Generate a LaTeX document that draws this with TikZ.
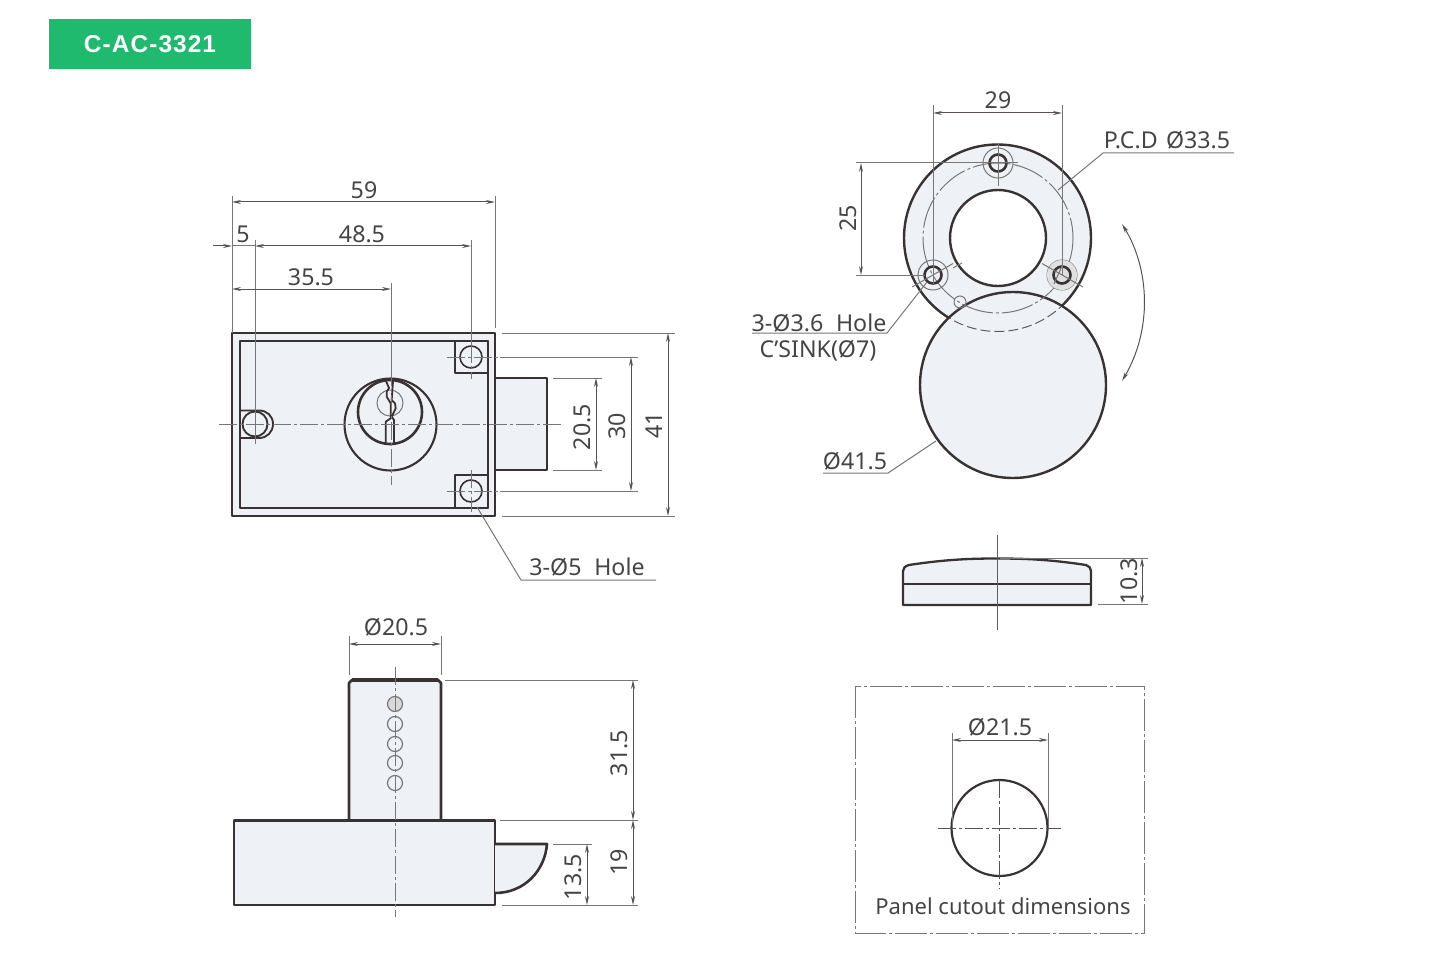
\documentclass[tikz,border=0pt]{standalone}
\usepackage{fontspec}
\setmainfont{Noto Sans}
\newfontfamily\badgefont[LetterSpace=4.5]{Liberation Sans}
\usetikzlibrary{arrows.meta}
\definecolor{ink}{HTML}{3A3232}
\definecolor{thinc}{HTML}{777777}
\definecolor{txtc}{HTML}{444444}
\definecolor{part}{HTML}{EEF2F7}
\definecolor{badge}{HTML}{1FBA6E}
\tikzset{
 outl/.style={draw=ink,line width=1.3pt,line join=round},
 partf/.style={outl,fill=part},
 thinl/.style={draw=thinc,line width=0.5pt},
 extl/.style={thinl},
 diml/.style={draw=ink!85,line width=0.5pt,{Stealth[length=4.5pt,width=2pt]}-{Stealth[length=4.5pt,width=2pt]}},
 oneway/.style={draw=ink!85,line width=0.5pt,-{Stealth[length=4.5pt,width=2pt]}},
 cline/.style={draw=thinc,line width=0.5pt,dash pattern=on 9pt off 1.5pt on 1.5pt off 1.5pt},
 lbl/.style={text=txtc,font=\fontsize{11.6}{12}\selectfont,inner sep=0pt},
 lblr/.style={lbl,rotate=90},
}
\newcommand{\wsp}{\hspace{0.55em}}
\begin{document}
\begin{tikzpicture}[x=0.5pt,y=-0.5pt]
\useasboundingbox (0,0) rectangle (1450,973);
% badge
\node[fill=badge,minimum width=101pt,minimum height=25pt,inner sep=0pt,text=white,font=\badgefont\bfseries\fontsize{12.2}{13}\selectfont] (badgebox) at (150,44) {C-AC-3321};

% ---- front view
\path[partf] (232,333) rectangle (495,516);
\path[partf] (495,378) rectangle (547,470);
\path[outl] (240,341) rectangle (488,508);
\path[outl,line width=1.1pt] (455,341) rectangle (488,373);
\path[outl,line width=1.1pt] (455,475) rectangle (488,508);
\path[thinl,draw=ink,line width=.8pt] (471,357) circle[radius=11];
\path[thinl,draw=ink,line width=.8pt] (471,491) circle[radius=11];
% slot
\path[outl,line width=.95pt] (240,410.5) -- (259,410.5) .. controls (267,410.5) and (273,416) .. (273,424) .. controls (273,432) and (267,438) .. (259,438) -- (240,438);
\path[outl,line width=.95pt] (255,424) circle[radius=12.5];
% cylinder
\path[outl,line width=1.05pt] (390.5,424.5) circle[radius=46];
\path[outl] (390,412) circle[radius=32];
\path[thinl] (390,403) circle[radius=13];
\path[outl,line width=.9pt] (385.7,444) -- (385.7,421.7) -- (390.7,418.3) -- (390.7,403.3) -- (386.7,396.7) -- (386.7,391.7) -- (389,388) -- (386,381);
\path[outl,line width=.9pt] (394,444) -- (394,420) -- (391.7,416.7) -- (395.7,408.3) -- (395,403.3) -- (391.7,400) -- (393,381);
% centre lines
\path[cline] (219,424) -- (561,424);
\path[cline] (391,368) -- (391,485);
\path[extl] (391,283) -- (391,372);
\path[extl] (255,240) -- (255,444);
\path[cline] (447,357) -- (500,357);
\path[cline] (447,491) -- (500,491);
\path[extl] (471,240) -- (471,345);
\path[cline] (471,345) -- (471,379);
\path[cline] (471,470) -- (471,512);
% dims top
\path[extl] (232,196) -- (232,333);
\path[extl] (495,196) -- (495,328);
\path[diml] (232,202) -- (495,202);
\node[lbl] (t59) at (364,190) {59};
\coordinate (d5l) at (213,246);
\path[oneway] (d5l) -- (232,246);
\path[extl] (232,246) -- (255,246);
\path[diml] (255,246) -- (471,246);
\node[lbl] (t5) at (243,234) {5};
\node[lbl] (t485) at (362,234) {48.5};
\path[diml] (232,289) -- (391,289);
\node[lbl] (t355) at (311,277) {35.5};
% dims right
\path[extl] (502,333) -- (675,333);
\path[extl] (502,516) -- (675,516);
\path[extl] (500,357) -- (638,357);
\path[extl] (500,491) -- (638,491);
\path[extl] (553,378) -- (602,378);
\path[extl] (553,470) -- (602,470);
\path[diml] (596,378) -- (596,470);
\path[diml] (631,357) -- (631,491);
\path[diml] (668,333) -- (668,516);
\node[lblr] (t205) at (582,427) {20.5};
\node[lblr] (t30) at (617,426) {30};
\node[lblr] (t41) at (654,425) {41};
% leader
\path[extl] (477,507) -- (521,580) -- (656,580);
\node[lbl] (t5h) at (587,567) {3-Ø5\wsp Hole};

% ---- lower-left view
\path[partf] (349,820) -- (349,683) -- (352,680) -- (438,680) -- (441,683) -- (441,820);
\path[outl,line width=1.7pt] (352,680) -- (438,680);
\path[partf] (234,820.5) rectangle (495,905);
\path[partf] (495,844) -- (547,844) .. controls (545,870) and (525,893) .. (495,893);
\foreach \yy in {724,744,763,783} \path[thinl,line width=.6pt] (395,\yy) circle[radius=7.5];
\path[thinl,line width=.6pt,fill=black!15] (395,704) circle[radius=7.5];
\path[cline] (395,667) -- (395,917);
\path[extl] (349,636) -- (349,675);
\path[extl] (441,636) -- (441,675);
\path[diml] (349,644) -- (441,644);
\node[lbl] (t205d) at (396,627) {Ø20.5};
\path[extl] (445,680) -- (638,680);
\path[extl] (500,820) -- (638,820);
\path[extl] (553,844) -- (592,844);
\path[extl] (502,905) -- (638,905);
\path[diml] (633,680) -- (633,820);
\path[diml] (633,820) -- (633,905);
\path[diml] (587,844) -- (587,905);
\node[lblr] (t315) at (619,753) {31.5};
\node[lblr] (t19) at (619,862) {19};
\node[lblr] (t135) at (573,877) {13.5};

% ---- flange
\path[partf,line width=1.2pt] (997.5,238) circle[radius=93.5];
\path[outl,line width=1.2pt,fill=white] (998,238) circle[radius=48];
\path[partf,line width=1.2pt] (1013,385) circle[radius=93];
\begin{scope}
\clip (1013,385) circle[radius=92];
\path[thinl,draw=ink!80,dash pattern=on 5pt off 2pt] (997.5,238) circle[radius=93.5];
\end{scope}
\path[thinl,dash pattern=on 16pt off 1.5pt on 1.5pt off 1.5pt] (998,238) circle[radius=75];
\path[thinl] (960,302) circle[radius=6];
\foreach \cx/\cy in {998/163,933/275,1062/275}{
 \path[thinl] (\cx,\cy) circle[radius=15];
}
\path[fill=black!12] (1062,275) circle[radius=15];
\foreach \cx/\cy in {998/163,933/275,1062/275}{
 \path[outl] (\cx,\cy) circle[radius=8.5];
}
\path[thinl] (998,144) -- (998,186);
\path[thinl] (978,163) -- (1018,163);
\path[thinl] (912,287) -- (953,263.5);
\path[thinl] (962,263) -- (953,268);
\path[thinl] (1083,287) -- (1042,263.5);
\path[thinl] (933,266) -- (933,284);
\path[thinl] (1062,266) -- (1054,284);
% dims
\path[extl] (933,105) -- (933,275);
\path[extl] (1062,105) -- (1062,275);
\path[diml] (933,113) -- (1062,113);
\node[lbl] (t29) at (998,100) {29};
\path[extl] (856,163) -- (998,163);
\path[extl] (856,275) -- (925,275);
\path[diml] (861,163) -- (861,275);
\node[lblr] (t25) at (848,218) {25};
\path[extl] (1058,190) -- (1103,153) -- (1234,153);
\node[lbl] (tpcd) at (1167,140) {P.C.D\hspace{0.1em} Ø33.5};
\path[extl] (927,282) -- (887,333) -- (752,333);
\node[lbl] (th36) at (819,323) {3-Ø3.6\wsp Hole};
\node[lbl] (tsink) at (818,351) {C'SINK(Ø7)};
\path[extl] (936,441) -- (888,473) -- (823,473);
\node[lbl] (t415) at (855,461) {Ø41.5};
\path[draw=ink!85,line width=.5pt,{Stealth[length=4.5pt,width=2pt]}-{Stealth[length=4.5pt,width=2pt]}] (1122,224) .. controls (1150,270) and (1152,330) .. (1122,381);

% ---- side view
\path[partf,line width=1.15pt] (903,605) -- (903,571) .. controls (903,568) and (905,566) .. (909,565) .. controls (945,559.5) and (970,558.5) .. (997,558.5) .. controls (1025,558.5) and (1050,559.5) .. (1086,565) .. controls (1089,566) and (1091,568) .. (1091,571) -- (1091,605) -- cycle;
\path[outl,line width=1.05pt] (903,584) -- (1091,584);
\path[thinl,draw=ink!80] (997,535) -- (997,630);
\path[extl] (1000,558) -- (1148,558);
\path[extl] (1098,604) -- (1148,604);
\path[diml] (1142,558) -- (1142,604);
\node[lblr] (t103) at (1129,581) {10.3};

% ---- panel cut-out
\path[thinl,dash pattern=on 16pt off 1.5pt on 1.5pt off 1.5pt] (855,686) rectangle (1144,933);
\path[outl,line width=1.1pt] (999.5,828) circle[radius=48];
\path[cline,draw=ink!85] (938,828) -- (1061,828);
\path[cline,draw=ink!85] (999.5,780) -- (999.5,889);
\path[extl] (952,733) -- (952,828);
\path[extl] (1048,733) -- (1048,828);
\path[diml] (952,740) -- (1048,740);
\node[lbl] (t215) at (1000,727) {Ø21.5};
\node[lbl,font=\fontsize{11}{12}\selectfont] (tpanel) at (1003,906) {Panel cutout dimensions};
\end{tikzpicture}
\end{document}
